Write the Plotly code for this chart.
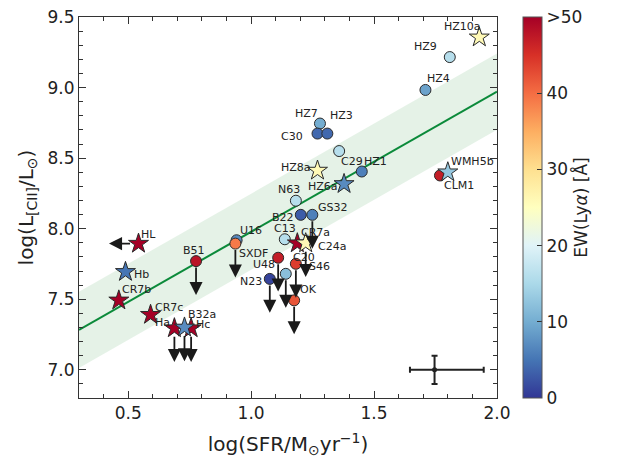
import plotly.graph_objects as go

# ---- data ----
names = ["HZ10a", "HZ9", "HZ4", "HZ7", "C30", "HZ3", "C29", "HZ1", "HZ8a", "HZ6a",
         "N63", "B22", "GS32", "C13", "CR7a", "C24a", "C20", "OK", "U48", "S46",
         "N23", "B51", "U16", "SXDF", "Ha", "Hc", "B32a", "CR7c", "HL", "Hb",
         "CR7b", "CLM1", "WMH5b"]
log_sfr = [1.928, 1.808, 1.709, 1.280, 1.270, 1.310, 1.358, 1.450, 1.270, 1.378,
           1.182, 1.202, 1.249, 1.137, 1.188, 1.222, 1.182, 1.175, 1.110, 1.141,
           1.076, 0.776, 0.941, 0.936, 0.688, 0.756, 0.729, 0.591, 0.542, 0.489,
           0.462, 1.768, 1.800]
log_lcii = [9.356, 9.216, 8.983, 8.745, 8.674, 8.674, 8.550, 8.405, 8.412, 8.317,
            8.198, 8.098, 8.098, 7.925, 7.897, 7.897, 7.751, 7.492, 7.794, 7.680,
            7.644, 7.770, 7.918, 7.894, 7.295, 7.295, 7.300, 7.390, 7.894, 7.694,
            7.492, 8.377, 8.400]
ew_lya = [26, 16, 9, 10, 4, 4, 16, 6, 26, 7,
          16, 3, 6, 16, 50, 26, 44, 42, 47, 12,
          1, 48, 7, 39, 50, 50, 7, 50, 50, 5,
          50, 47, 13]
kind = ["star", "circle", "circle", "circle", "circle", "circle", "circle", "circle", "star", "star",
        "circle", "circle", "circle", "circle", "star", "star", "circle", "circle", "circle", "circle",
        "circle", "circle", "circle", "circle", "star", "star", "star", "star", "star", "star",
        "star", "circle", "star"]
limit = ["", "", "", "", "", "", "", "", "", "",
         "", "", "down", "", "", "down", "down", "down", "down", "down",
         "down", "down", "", "down", "down", "down", "down", "", "left", "",
         "", "", ""]

# fit relation and scatter band
FIT_SLOPE = 0.993
FIT_INTERCEPT = 6.985
FIT_SCATTER = 0.27
fit_x = [0.3, 2.0]

# typical uncertainty
err_pt_x = [1.746]
err_pt_y = [7.0]
err_x_plus = [0.20]
err_x_minus = [0.10]
err_y = [0.10]

EW_CAP = 50
DOWN_LEN = 0.24
LEFT_LEN = 0.12

# label offsets in pixels (dx right, dy down)
label_off = {
    "HZ10a": (-17, -11), "HZ9": (-24, -11), "HZ4": (13, -11), "HZ7": (-13, -10),
    "C30": (-26, 3), "HZ3": (14, -18), "C29": (13, 10), "HZ1": (14, -10),
    "HZ8a": (-22, -3), "HZ6a": (-21, 3), "N63": (-7, -11), "B22": (-18, 3),
    "GS32": (21, -7), "C13": (0, -11), "CR7a": (18, -11), "C24a": (26, 3),
    "C20": (8, -6), "OK": (14, -11), "U48": (-14, 7), "S46": (34, -7),
    "N23": (-19, 3), "B51": (-2, -11), "U16": (14, -10), "SXDF": (18, 10),
    "Ha": (-12, -6), "Hc": (12, -4), "B32a": (18, -13), "CR7c": (18, -7),
    "HL": (10, -9), "Hb": (16, 3), "CR7b": (18, -11), "CLM1": (19, 10),
    "WMH5b": (25, -11),
}

FONT = "DejaVu Sans"
TXT = "#222222"

fig = go.Figure()

# scatter band
fit_y = [FIT_SLOPE * v + FIT_INTERCEPT for v in fit_x]
fig.add_trace(go.Scatter(x=fit_x, y=[v - FIT_SCATTER for v in fit_y], mode="lines",
                         line=dict(width=0, color="rgba(0,0,0,0)"), showlegend=False,
                         hoverinfo="skip"))
fig.add_trace(go.Scatter(x=fit_x, y=[v + FIT_SCATTER for v in fit_y], mode="lines",
                         line=dict(width=0, color="rgba(0,0,0,0)"), fill="tonexty",
                         fillcolor="rgba(40,150,60,0.12)", showlegend=False, hoverinfo="skip"))
fig.add_trace(go.Scatter(x=fit_x, y=fit_y, mode="lines",
                         line=dict(color="#0b8a3a", width=2), showlegend=False))

# error bar
fig.add_trace(go.Scatter(x=err_pt_x, y=err_pt_y, mode="markers",
                         marker=dict(color="#222", size=5),
                         error_x=dict(type="data", array=err_x_plus, arrayminus=err_x_minus,
                                      color="#222", thickness=2, width=3),
                         error_y=dict(type="data", array=err_y, color="#222", thickness=2, width=3),
                         showlegend=False))

symbols = ["star" if k == "star" else "circle" for k in kind]
sizes = [15 if k == "star" else 11 for k in kind]
colors = [min(e, EW_CAP) for e in ew_lya]

fig.add_trace(go.Scatter(
    x=log_sfr, y=log_lcii, mode="markers", text=names, showlegend=False,
    marker=dict(symbol=symbols, size=sizes, color=colors, cmin=0, cmax=EW_CAP, opacity=1,
                colorscale="RdYlBu_r", line=dict(color="#2a2a2a", width=1),
                colorbar=dict(
                    title=dict(text="EW(Ly<i>α</i>) [Å]", side="right",
                               font=dict(family=FONT, size=17, color=TXT)),
                    tickvals=[0, 10, 20, 30, 40, 50],
                    ticktext=["0", "10", "20", "30", "40", ">50"],
                    ticks="inside", ticklen=5, tickcolor="#333",
                    tickfont=dict(family=FONT, size=17, color=TXT),
                    x=1.062, xanchor="left", xref="paper", xpad=0, ypad=0,
                    y=0.5, yanchor="middle", len=1.0, lenmode="fraction",
                    thickness=19, outlinewidth=1, outlinecolor="#555"))))

annotations = []
for n, xv, yv, k, lim in zip(names, log_sfr, log_lcii, kind, limit):
    dx, dy = label_off[n]
    annotations.append(dict(x=xv, y=yv, xref="x", yref="y", text=n, showarrow=False,
                            xshift=dx, yshift=-dy, xanchor="center", yanchor="middle",
                            font=dict(family=FONT, size=11, color=TXT)))
    rad = 7 if k == "star" else 5
    if lim == "down":
        annotations.append(dict(x=xv, y=yv - DOWN_LEN, ax=xv, ay=yv, xref="x", yref="y",
                                axref="x", ayref="y", showarrow=True, arrowhead=2,
                                arrowsize=1.45, arrowwidth=1.8, arrowcolor="#1a1a1a",
                                startstandoff=rad, text=""))
    elif lim == "left":
        annotations.append(dict(x=xv - LEFT_LEN, y=yv, ax=xv, ay=yv, xref="x", yref="y",
                                axref="x", ayref="y", showarrow=True, arrowhead=2,
                                arrowsize=1.45, arrowwidth=1.8, arrowcolor="#1a1a1a",
                                startstandoff=rad, text=""))

axis_common = dict(showline=True, linecolor="#333", linewidth=1, mirror="allticks",
                   ticks="inside", ticklen=7, tickcolor="#333", showgrid=False, zeroline=False,
                   automargin=False, tickfont=dict(family=FONT, size=17, color=TXT))

fig.update_xaxes(range=[0.3, 2.0], dtick=0.5, tick0=0, tickformat=".1f",
                 minor=dict(dtick=0.1, ticks="inside", ticklen=4, tickcolor="#333"),
                 title=dict(text="log(SFR/M<sub>⊙</sub>yr<sup>−1</sup>)",
                            font=dict(family=FONT, size=20, color=TXT), standoff=14),
                 **axis_common)
fig.update_yaxes(range=[6.8, 9.5], dtick=0.5, tick0=0, tickformat=".1f",
                 minor=dict(dtick=0.1, ticks="inside", ticklen=4, tickcolor="#333"),
                 title=dict(text="log(L<sub>[CII]</sub>/L<sub>⊙</sub>)",
                            font=dict(family=FONT, size=20, color=TXT), standoff=8),
                 **axis_common)

fig.update_layout(width=625, height=460, margin=dict(l=79, r=128, t=17, b=62),
                  plot_bgcolor="white", paper_bgcolor="white",
                  font=dict(family=FONT, color=TXT), annotations=annotations,
                  showlegend=False)

fig.write_html("out.html")
